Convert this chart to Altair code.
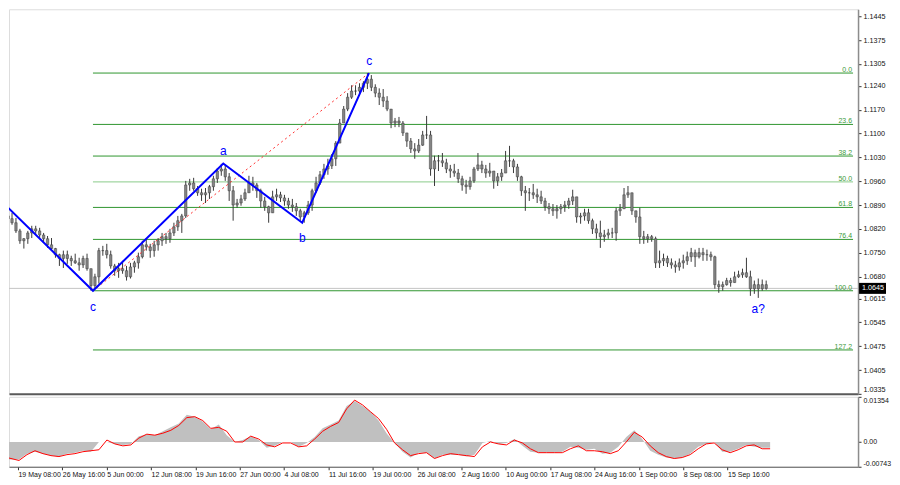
import altair as alt
import pandas as pd

# ---------------- data ----------------
highs = [
1.0873,1.0867,1.0852,1.0820,1.0793,1.0814,1.0829,1.0829,1.0823,1.0808,
1.0799,1.0793,1.0764,1.0747,1.0756,1.0756,1.0741,1.0747,1.0735,1.0741,
1.0747,1.0703,1.0688,1.0764,1.0770,1.0776,1.0756,1.0717,1.0720,1.0726,
1.0711,1.0720,1.0726,1.0750,1.0785,1.0793,1.0776,1.0785,1.0793,1.0808,
1.0808,1.0820,1.0838,1.0858,1.0864,1.0961,1.0967,1.0970,1.0946,1.0938,
1.0940,1.0949,1.0976,1.0999,1.1011,1.1008,1.0984,1.0946,1.0908,1.0920,
1.0938,1.0976,1.0973,1.0955,1.0938,1.0914,1.0888,1.0932,1.0938,1.0929,
1.0920,1.0911,1.0908,1.0896,1.0879,1.0873,1.0902,1.0938,1.0973,1.0990,
1.1011,1.1026,1.1040,1.1078,1.1143,1.1181,1.1219,1.1242,1.1242,1.1248,
1.1254,1.1278,1.1272,1.1245,1.1233,1.1231,1.1210,1.1172,1.1146,1.1149,
1.1137,1.1102,1.1087,1.1072,1.1084,1.1108,1.1152,1.1108,1.1035,1.1037,
1.1043,1.1026,1.1008,1.1011,1.0996,1.0976,1.0964,1.0973,1.1002,1.1043,
1.1020,1.1008,1.1014,1.0990,1.0984,1.0996,1.1049,1.1064,1.1026,1.1011,
1.0976,1.0946,1.0940,1.0952,1.0938,1.0932,1.0911,1.0896,1.0893,1.0890,
1.0893,1.0902,1.0911,1.0935,1.0902,1.0867,1.0879,1.0879,1.0850,1.0835,
1.0844,1.0817,1.0820,1.0823,1.0882,1.0893,1.0940,1.0946,1.0917,1.0873,
1.0882,1.0814,1.0805,1.0802,1.0797,1.0756,1.0747,1.0741,1.0733,1.0726,
1.0733,1.0744,1.0753,1.0764,1.0759,1.0764,1.0764,1.0759,1.0753,1.0741,
1.0668,1.0665,1.0676,1.0676,1.0694,1.0697,1.0703,1.0735,1.0697,1.0668,
1.0674,1.0671,1.0668]

lows = [
1.0838,1.0832,1.0808,1.0776,1.0762,1.0776,1.0793,1.0805,1.0793,1.0779,
1.0764,1.0756,1.0735,1.0711,1.0705,1.0717,1.0711,1.0717,1.0697,1.0705,
1.0697,1.0638,1.0644,1.0659,1.0741,1.0733,1.0703,1.0682,1.0676,1.0688,
1.0668,1.0674,1.0691,1.0703,1.0733,1.0756,1.0735,1.0738,1.0756,1.0770,
1.0776,1.0779,1.0799,1.0814,1.0808,1.0852,1.0932,1.0932,1.0917,1.0902,
1.0896,1.0908,1.0932,1.0955,1.0976,1.0961,1.0902,1.0844,1.0882,1.0888,
1.0902,1.0926,1.0932,1.0911,1.0882,1.0873,1.0838,1.0879,1.0902,1.0899,
1.0888,1.0879,1.0870,1.0858,1.0844,1.0838,1.0861,1.0873,1.0926,1.0949,
1.0967,1.0979,1.0996,1.1005,1.1078,1.1131,1.1166,1.1202,1.1213,1.1216,
1.1222,1.1231,1.1225,1.1207,1.1184,1.1178,1.1166,1.1116,1.1119,1.1119,
1.1093,1.1061,1.1043,1.1026,1.1043,1.1064,1.1084,1.0976,1.0946,1.0990,
1.1002,1.0984,1.0970,1.0973,1.0955,1.0932,1.0923,1.0935,1.0955,1.0990,
1.0984,1.0970,1.0973,1.0938,1.0946,1.0961,1.0984,1.1002,1.0984,1.0961,
1.0917,1.0873,1.0902,1.0908,1.0896,1.0893,1.0873,1.0864,1.0858,1.0850,
1.0864,1.0870,1.0879,1.0890,1.0838,1.0835,1.0844,1.0835,1.0805,1.0791,
1.0764,1.0782,1.0791,1.0793,1.0785,1.0858,1.0882,1.0911,1.0861,1.0838,
1.0776,1.0776,1.0779,1.0782,1.0705,1.0705,1.0711,1.0708,1.0703,1.0691,
1.0697,1.0703,1.0714,1.0723,1.0708,1.0733,1.0726,1.0726,1.0726,1.0644,
1.0632,1.0638,1.0653,1.0650,1.0665,1.0676,1.0676,1.0676,1.0623,1.0629,
1.0617,1.0638,1.0641]

closes = [
1.0850,1.0838,1.0814,1.0785,1.0791,1.0808,1.0820,1.0814,1.0802,1.0791,
1.0773,1.0762,1.0744,1.0733,1.0744,1.0733,1.0726,1.0720,1.0714,1.0733,
1.0703,1.0653,1.0679,1.0756,1.0756,1.0744,1.0711,1.0697,1.0703,1.0697,
1.0679,1.0708,1.0720,1.0738,1.0773,1.0767,1.0756,1.0773,1.0785,1.0797,
1.0791,1.0808,1.0826,1.0844,1.0858,1.0949,1.0955,1.0938,1.0926,1.0920,
1.0926,1.0944,1.0967,1.0990,1.0996,1.0973,1.0932,1.0890,1.0896,1.0908,
1.0926,1.0955,1.0949,1.0932,1.0902,1.0885,1.0867,1.0914,1.0920,1.0911,
1.0902,1.0890,1.0885,1.0873,1.0855,1.0867,1.0890,1.0932,1.0955,1.0979,
1.0996,1.1005,1.1026,1.1072,1.1131,1.1172,1.1207,1.1225,1.1225,1.1236,
1.1248,1.1260,1.1236,1.1219,1.1207,1.1196,1.1172,1.1131,1.1137,1.1131,
1.1102,1.1078,1.1055,1.1049,1.1066,1.1096,1.1096,1.0996,1.1020,1.1020,
1.1014,1.0996,1.0990,1.0984,1.0967,1.0949,1.0944,1.0961,1.0996,1.1008,
1.0996,1.0984,1.0990,1.0961,1.0973,1.0984,1.1020,1.1020,1.1002,1.0973,
1.0932,1.0926,1.0926,1.0920,1.0914,1.0902,1.0885,1.0879,1.0873,1.0879,
1.0885,1.0890,1.0902,1.0914,1.0855,1.0858,1.0867,1.0844,1.0820,1.0808,
1.0797,1.0802,1.0808,1.0808,1.0873,1.0879,1.0920,1.0926,1.0873,1.0855,
1.0797,1.0791,1.0797,1.0791,1.0720,1.0726,1.0733,1.0720,1.0714,1.0708,
1.0720,1.0726,1.0738,1.0750,1.0738,1.0750,1.0744,1.0744,1.0738,1.0656,
1.0650,1.0656,1.0668,1.0662,1.0679,1.0685,1.0691,1.0679,1.0644,1.0656,
1.0644,1.0656,1.0645]
first_open = 1.0858
last_price = 1.0645

# Fibonacci levels
fib_names = ["0.0", "23.6", "38.2", "50.0", "61.8", "76.4", "100.0", "127.2"]
fib_prices = [1.1278, 1.1127, 1.1034, 1.0958, 1.0883, 1.0789, 1.0638, 1.0464]
fib_colors = ["#2f962f", "#2f962f", "#2f962f", "#8acb8a", "#2f962f", "#2f962f", "#2f962f", "#2f962f"]
fib_start, fib_end = 21.5, 214.0

# wave count
wave_k = [-0.5, 21.5, 54.5, 74.5, 91.4]
wave_p = [1.0888, 1.0638, 1.1012, 1.0838, 1.1278]
dot_k = [21.5, 91.4]
dot_p = [1.0638, 1.1278]
lab_text = ["c", "a", "b", "c", "a?"]
lab_k = [21.5, 54.5, 74.5, 91.5, 190.0]
lab_p = [1.0591, 1.1049, 1.0794, 1.1313, 1.0585]

# oscillator (every second bar)
hist = [
-0.00526,-0.00526,-0.00526,-0.00350,-0.00292,-0.00350,-0.00409,-0.00438,-0.00350,-0.00321,
-0.00263,-0.00292,0.0,0.0,-0.00058,-0.00088,-0.00058,0.00175,0.00234,0.00204,
0.00321,0.00438,0.00555,0.00818,0.00759,0.00613,0.00380,0.00526,0.00204,0.0,
0.00058,0.00175,0.00058,-0.00175,-0.00117,0.0,0.0,-0.00146,-0.00029,0.00146,
0.00409,0.00526,0.00642,0.01080,0.01226,0.01080,0.00905,0.00642,0.00263,-0.00029,
-0.00292,-0.00467,-0.00321,-0.00321,-0.00496,-0.00380,-0.00380,-0.00380,-0.00438,-0.00380,
-0.00029,0.00029,-0.00058,-0.00029,0.00088,-0.00117,-0.00292,-0.00321,-0.00321,-0.00321,
-0.00292,-0.00146,-0.00175,-0.00234,-0.00204,-0.00350,-0.00321,-0.00146,0.00146,0.00350,
0.00088,-0.00263,-0.00380,-0.00467,-0.00496,-0.00467,-0.00350,-0.00146,-0.00058,0.0,
-0.00292,-0.00292,-0.00204,-0.00088,-0.00146,-0.00175,-0.00175]
signal = [
-0.00438,-0.00496,-0.00555,-0.00380,-0.00263,-0.00350,-0.00409,-0.00438,-0.00380,-0.00350,
-0.00292,-0.00263,-0.00234,0.00058,-0.00058,-0.00117,-0.00088,0.00117,0.00234,0.00204,
0.00263,0.00350,0.00496,0.00730,0.00759,0.00642,0.00409,0.00438,0.00321,0.0,
0.0,0.00175,0.00088,-0.00088,-0.00146,-0.00029,-0.00029,-0.00146,-0.00117,0.00088,
0.00321,0.00467,0.00584,0.00993,0.01256,0.01110,0.00905,0.00701,0.00380,-0.00029,
-0.00234,-0.00409,-0.00350,-0.00321,-0.00496,-0.00409,-0.00350,-0.00380,-0.00409,-0.00438,
-0.00146,0.0,-0.00058,-0.00088,0.00058,-0.00029,-0.00204,-0.00321,-0.00321,-0.00321,
-0.00321,-0.00204,-0.00117,-0.00263,-0.00263,-0.00292,-0.00350,-0.00263,0.0,0.00292,
0.00146,-0.00117,-0.00321,-0.00438,-0.00496,-0.00467,-0.00380,-0.00204,-0.00058,-0.00029,
-0.00234,-0.00321,-0.00234,-0.00117,-0.00088,-0.00204,-0.00204]

# axes
price_ticks = [1.1445, 1.1375, 1.1305, 1.1240, 1.1170, 1.1100, 1.1030, 1.0960, 1.0890,
               1.0820, 1.0750, 1.0680, 1.0615, 1.0545, 1.0475, 1.0405, 1.0335]
osc_ticks = [0.01354, 0.0, -0.00743]
x_labels = ["19 May 08:00", "26 May 16:00", "5 Jun 00:00", "12 Jun 08:00", "19 Jun 16:00",
            "27 Jun 00:00", "4 Jul 08:00", "11 Jul 16:00", "19 Jul 00:00", "26 Jul 08:00",
            "2 Aug 16:00", "10 Aug 00:00", "17 Aug 08:00", "24 Aug 16:00", "1 Sep 00:00",
            "8 Sep 08:00", "15 Sep 16:00"]
x_label_pos = [3.75, 14.85, 25.95, 37.05, 48.15, 59.25, 70.35, 81.45, 92.55, 103.65,
               114.75, 125.85, 136.95, 148.05, 159.15, 170.25, 181.35]

# ---------------- layout / style ----------------
W = 850
H_MAIN = 385
H_OSC = 70
X_DOM = [1.5, 214.0]
Y_DOM = [1.0335, 1.14655]
OSC_DOM = [-0.00743, 0.01354]
FONT = "Liberation Sans"
BLUE = "#0000ff"

opens = [first_open] + closes[:-1]
candles = pd.DataFrame({"k": list(range(len(closes))), "open": opens, "close": closes,
                        "high": highs, "low": lows})
candles["high"] = candles[["high", "open", "close"]].max(axis=1)
candles["low"] = candles[["low", "open", "close"]].min(axis=1)

fib = pd.DataFrame({"name": fib_names, "p": fib_prices, "col": fib_colors,
                    "k": [fib_start] * len(fib_names), "k2": [fib_end] * len(fib_names)})
wave = pd.DataFrame({"k": wave_k, "p": wave_p, "i": list(range(len(wave_k)))})
dots = pd.DataFrame({"k": dot_k, "p": dot_p})
labs = pd.DataFrame({"k": lab_k, "p": lab_p, "t": lab_text})
osc = pd.DataFrame({"k": [2 * j for j in range(len(hist))], "hist": hist, "signal": signal})
cur = pd.DataFrame({"p": [last_price]})

xs = alt.Scale(domain=X_DOM, nice=False, zero=False)
ys = alt.Scale(domain=Y_DOM, nice=False, zero=False)
os_ = alt.Scale(domain=OSC_DOM, nice=False, zero=False)

x_axis_main = alt.Axis(labels=False, ticks=False, grid=False, domain=True,
                       domainColor="#5a5a5a", domainWidth=2, title=None)
y_axis_main = alt.Axis(orient="right", values=price_ticks, format=".4f", grid=False,
                       labelFlush=True,
                       domainColor="#8c8c8c", domainWidth=1.5, tickColor="#333",
                       tickSize=3, labelPadding=2, labelFont=FONT, labelFontSize=7.2,
                       labelColor="#111", title=None)


def xm(field="k"):
    return alt.X(f"{field}:Q", scale=xs, axis=x_axis_main, title=None)


def ym(field="p"):
    return alt.Y(f"{field}:Q", scale=ys, axis=y_axis_main, title=None)


fib_rules = alt.Chart(fib).mark_rule(strokeWidth=1).encode(
    x=xm("k"), x2="k2:Q", y=ym("p"), color=alt.Color("col:N", scale=None))
fib_text = alt.Chart(fib).mark_text(align="right", baseline="bottom", dx=-1, dy=0,
                                    font=FONT, fontSize=7, color="#3a9a3a").encode(
    x=xm("k2"), y=ym("p"), text="name:N")
cur_line = alt.Chart(cur).mark_rule(color="#c4c4c4", strokeWidth=1).encode(y=ym("p"))
wicks = alt.Chart(candles).mark_rule(color="#3a3a3a", strokeWidth=1, clip=True).encode(
    x=xm("k"), y=ym("low"), y2="high:Q")
bodies = alt.Chart(candles).mark_bar(size=2.4, color="#858585", stroke="#3a3a3a",
                                     strokeWidth=0.5, clip=True).encode(
    x=xm("k"), y=ym("open"), y2="close:Q")
dotted = alt.Chart(dots).mark_line(color="#ff3030", strokeWidth=1, strokeDash=[2, 3],
                                   clip=True).encode(x=xm("k"), y=ym("p"))
wave_line = alt.Chart(wave).mark_line(color=BLUE, strokeWidth=2, clip=True).encode(
    x=xm("k"), y=ym("p"), order="i:Q")
wave_labels = alt.Chart(labs).mark_text(color=BLUE, font=FONT, fontSize=12,
                                        baseline="middle", align="center").encode(
    x=xm("k"), y=ym("p"), text="t:N")
box = alt.Chart(cur).mark_rule(color="black", strokeWidth=11, clip=False).encode(
    x=alt.value(W + 1), x2=alt.value(W + 28), y=ym("p"))
box_text = alt.Chart(cur).mark_text(color="white", align="left", baseline="middle",
                                    font=FONT, fontSize=7.2, clip=False).encode(
    x=alt.value(W + 4), y=ym("p"), text=alt.Text("p:Q", format=".4f"))

main = alt.layer(fib_rules, cur_line, wicks, bodies, dotted, wave_line, wave_labels,
                 fib_text, box, box_text).properties(width=W, height=H_MAIN)

# oscillator panel
lab_arr = "[" + ",".join(f"'{t}'" for t in x_labels) + "]"
pos_arr = "[" + ",".join(str(v) for v in x_label_pos) + "]"
x_axis_osc = alt.Axis(values=x_label_pos, labelExpr=f"{lab_arr}[indexof({pos_arr}, datum.value)]",
                      labelAlign="left", labelFlush=False, labelOverlap=False, grid=False,
                      tickSize=3, tickColor="#333", domainColor="#5a5a5a", domainWidth=1,
                      labelPadding=1, labelFont=FONT, labelFontSize=7, labelColor="#111",
                      title=None)
y_axis_osc = alt.Axis(orient="right", values=osc_ticks, labelFlush=True, grid=False,
                      labelExpr="datum.value == 0 ? '0.00' : (datum.value < 0 ? '-' + format(-datum.value, '.5f') : format(datum.value, '.5f'))",
                      domainColor="#8c8c8c", domainWidth=1.5, tickColor="#333", tickSize=3,
                      labelPadding=2, labelFont=FONT, labelFontSize=7, labelColor="#111",
                      title=None)

osc_area = alt.Chart(osc).mark_area(color="#c0c0c0", opacity=1, clip=True).encode(
    x=alt.X("k:Q", scale=xs, axis=x_axis_osc, title=None),
    y=alt.Y("hist:Q", scale=os_, axis=y_axis_osc, title=None),
    y2=alt.datum(0))
osc_line = alt.Chart(osc).mark_line(color="#ff0000", strokeWidth=1, clip=True).encode(
    x=alt.X("k:Q", scale=xs, axis=x_axis_osc, title=None),
    y=alt.Y("signal:Q", scale=os_, axis=y_axis_osc, title=None))
osc_panel = alt.layer(osc_area, osc_line).properties(width=W, height=H_OSC)

chart = alt.vconcat(
    main, osc_panel, spacing=1,
    padding={"left": 0, "top": 0, "right": 0, "bottom": 0},
).configure_view(stroke=None).configure(background="white")

chart.save("out.html", embed_options={"renderer": "svg", "actions": False})
